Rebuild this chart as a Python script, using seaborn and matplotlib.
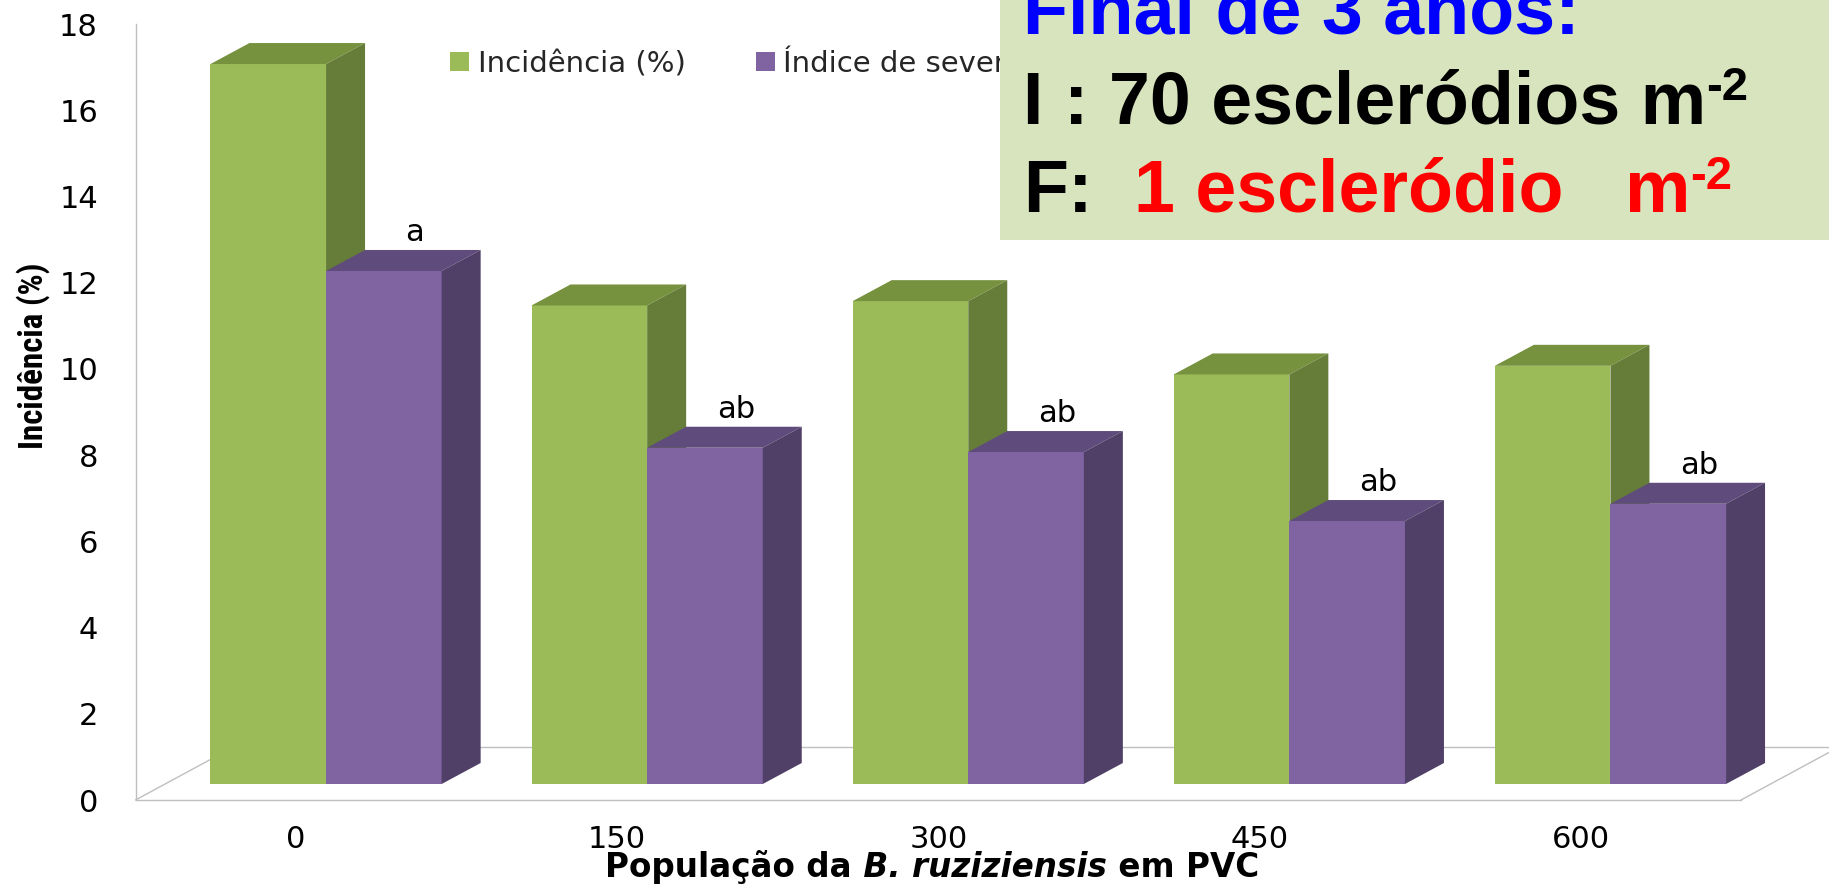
import matplotlib
matplotlib.use("Agg")
import matplotlib.pyplot as plt
import numpy as np
import pandas as pd
import seaborn as sns
from matplotlib import font_manager as fm
from matplotlib.patches import Polygon
from matplotlib.transforms import Affine2D, ScaledTranslation

# ---- data -------------------------------------------------------------
populacao = ["0", "150", "300", "450", "600"]
incidencia = [16.7, 11.1, 11.2, 9.5, 9.7]
severidade = [11.9, 7.8, 7.7, 6.1, 6.5]
letras = ["a", "ab", "ab", "ab", "ab"]
series = ["Incidência (%)", "Índice de severidade (%)"]
yticks = [0, 2, 4, 6, 8, 10, 12, 14, 16, 18]

# ---- style ------------------------------------------------------------
front_colors = ["#9BBB59", "#8064A2"]
top_colors = ["#77923F", "#5F4B7C"]
side_colors = ["#657D39", "#503F66"]
floor_color = "#BFBFBF"

W, H, DPI = 1829, 886, 100

sns.set_theme(style="white")
plt.rcParams["font.family"] = ["DejaVu Sans"]


def fx(px):
    return px / W


def fy(py_top):
    return 1 - py_top / H


def pick_condensed_bold():
    prefs = ["Liberation Sans Narrow", "Arial Narrow", "Roboto Condensed",
             "DejaVu Sans Condensed", "Open Sans Condensed"]
    fonts = fm.fontManager.ttflist

    def is_bold(f):
        w = f.weight
        if isinstance(w, str):
            w = fm.weight_dict.get(w, 400)
        return w >= 600

    for name in prefs:
        for f in fonts:
            if f.name == name and is_bold(f) and f.style == "normal":
                return fm.FontProperties(fname=f.fname)
    for f in fonts:
        if is_bold(f) and f.style == "normal" and (
                "condensed" in str(f.stretch) or "Narrow" in f.name
                or "Condensed" in f.name):
            return fm.FontProperties(fname=f.fname)
    return fm.FontProperties(family="DejaVu Sans", weight="bold")


fig = plt.figure(figsize=(W / DPI, H / DPI), dpi=DPI)
fig.patch.set_facecolor("white")
px_t = Affine2D().scale(1 / DPI) + fig.dpi_scale_trans  # figure pixels

ax_left, ax_right, ax_top, ax_bottom = 135.5, 1741.0, 24.0, 800.0
ax = fig.add_axes([fx(ax_left), fy(ax_bottom), (ax_right - ax_left) / W,
                   (ax_bottom - ax_top) / H])

df = pd.DataFrame({
    "populacao": populacao * 2,
    "valor": incidencia + severidade,
    "serie": [series[0]] * len(populacao) + [series[1]] * len(populacao),
})
sns.barplot(data=df, x="populacao", y="valor", hue="serie", order=populacao,
            hue_order=series, palette=front_colors, saturation=1, width=0.72,
            gap=0, linewidth=0, ax=ax)

ax.set_xlim(-0.5, len(populacao) - 0.5)
ax.set_ylim(yticks[0], yticks[-1])
ax.set_yticks(yticks)
ax.set_xlabel("")

# pixel scale of the data axes
ppx = (ax_right - ax_left) / (ax.get_xlim()[1] - ax.get_xlim()[0])
ppy = (ax_bottom - ax_top) / (ax.get_ylim()[1] - ax.get_ylim()[0])

# oblique projection: bars sit mid-depth on the floor
bar_shift = ScaledTranslation(30 / DPI, 16 / DPI, fig.dpi_scale_trans)
bar_trans = ax.transData + bar_shift
ddx, ddy = 39 / ppx, 21 / ppy          # bar depth
fdx, fdy = 98 / ppx, 53 / ppy          # floor depth

x0f, x1f = ax.get_xlim()
floor_kw = dict(color=floor_color, lw=1.0, clip_on=False, zorder=0.5)
ax.plot([x0f, x0f + fdx], [0, fdy], **floor_kw)
ax.plot([x0f + fdx, x1f + fdx], [fdy, fdy], **floor_kw)
ax.plot([x1f, x1f + fdx], [0, fdy], **floor_kw)

for j, cont in enumerate(ax.containers):
    z = 2 + j * 0.3
    for i, bar in enumerate(cont):
        bar.set_transform(bar_trans)
        bar.set_zorder(z)
        bar.set_clip_on(False)
        x0, w, h = bar.get_x(), bar.get_width(), bar.get_height()
        top = Polygon([(x0, h), (x0 + w, h), (x0 + w + ddx, h + ddy),
                       (x0 + ddx, h + ddy)], closed=True, transform=bar_trans,
                      facecolor=top_colors[j], lw=0, zorder=z + 0.1,
                      clip_on=False)
        side = Polygon([(x0 + w, 0), (x0 + w + ddx, ddy),
                        (x0 + w + ddx, h + ddy), (x0 + w, h)], closed=True,
                       transform=bar_trans, facecolor=side_colors[j], lw=0,
                       zorder=z + 0.1, clip_on=False)
        ax.add_patch(top)
        ax.add_patch(side)
        if j == 1:
            ax.annotate(letras[i], xy=(x0 + w / 2, h), xycoords="data",
                        xytext=(61, 46), textcoords="offset pixels",
                        ha="center", va="baseline", fontsize=22,
                        color="black", zorder=6, annotation_clip=False)

# axes styling
for s in ["top", "right"]:
    ax.spines[s].set_visible(False)
for s in ["left", "bottom"]:
    ax.spines[s].set_color(floor_color)
    ax.spines[s].set_linewidth(1.0)
    ax.spines[s].set_zorder(0.6)
ax.tick_params(axis="both", length=0, labelsize=22, labelcolor="black")
ax.tick_params(axis="x", pad=18)
ax.tick_params(axis="y", pad=27)
ax.grid(False)
ax.set_facecolor("white")

# legend
handles, labels = ax.get_legend_handles_labels()
if ax.get_legend() is not None:
    ax.get_legend().remove()
ax.legend(handles, labels, loc="center left",
          bbox_to_anchor=(fx(450), fy(63)), bbox_transform=fig.transFigure,
          ncol=2, frameon=False, fontsize=21, handlelength=0.65,
          handleheight=0.65, handletextpad=0.3, columnspacing=2.4,
          borderpad=0, borderaxespad=0)

# y axis title in a condensed bold face
cond = pick_condensed_bold()
ylab = ax.set_ylabel("Incidência (%)", fontproperties=cond, fontsize=24,
                     color="black")
ylab.set_verticalalignment("center")
ax.yaxis.set_label_coords((33 - ax_left) / (ax_right - ax_left),
                          (ax_bottom - 356) / (ax_bottom - ax_top))

# x axis title: bold with the species name in bold italic
xt_base = H - 877
xt_size = 23.5
xt1 = fig.text(600, xt_base, "População da", transform=px_t, fontsize=xt_size,
               fontweight="bold", ha="left", va="baseline", color="black")
xt2 = ax.annotate(" B. ruziziensis", xy=(1, xt_base),
                  xycoords=(xt1, "figure pixels"), fontsize=xt_size,
                  fontweight="bold", fontstyle="italic", ha="left",
                  va="baseline", color="black", annotation_clip=False)
xt3 = ax.annotate(" em PVC", xy=(1, xt_base), xycoords=(xt2, "figure pixels"),
                  fontsize=xt_size, fontweight="bold", ha="left",
                  va="baseline", color="black", annotation_clip=False)

# summary box in the upper right
axb = fig.add_axes([fx(1000), fy(240), (W - 1000) / W, 240 / H])
axb.set_facecolor("#D7E4BD")
axb.set_xticks([])
axb.set_yticks([])
for s in axb.spines.values():
    s.set_visible(False)
axb.set_zorder(10)

box_font = dict(family=["Liberation Sans", "DejaVu Sans"], fontweight="bold")
big, small = 53, 34
axb.text(1023, H - 33, "Final de 3 anos:", transform=px_t, fontsize=big,
         color="#0000FF", ha="left", va="baseline", clip_on=False, **box_font)
l2 = axb.text(1023, H - 123, "I : 70 escleródios m", transform=px_t,
              fontsize=big, color="black", ha="left", va="baseline",
              clip_on=False, **box_font)
axb.annotate("-2", xy=(1, H - 100), xycoords=(l2, "figure pixels"),
             fontsize=small, color="black", ha="left", va="baseline",
             annotation_clip=False, **box_font)
l3 = axb.text(1023, H - 212, "F:", transform=px_t, fontsize=big,
              color="black", ha="left", va="baseline", clip_on=False,
              **box_font)
l3b = axb.annotate("  1 escleródio   m", xy=(1, H - 212),
                   xycoords=(l3, "figure pixels"), fontsize=big,
                   color="#FF0000", ha="left", va="baseline",
                   annotation_clip=False, **box_font)
axb.annotate("-2", xy=(1, H - 189), xycoords=(l3b, "figure pixels"),
             fontsize=small, color="#FF0000", ha="left", va="baseline",
             annotation_clip=False, **box_font)

# size the y title to its span and center the x title
fig.canvas.draw()
renderer = fig.canvas.get_renderer()
yl_len = ylab.get_window_extent(renderer).height
if yl_len > 0:
    ylab.set_fontsize(24 * 187 / yl_len)
fig.canvas.draw()
b1 = xt1.get_window_extent(renderer)
b3 = xt3.get_window_extent(renderer)
total = b3.x1 - b1.x0
xt1.set_x(932 - total / 2)

fig.savefig("out.png", dpi=DPI, facecolor="white")
